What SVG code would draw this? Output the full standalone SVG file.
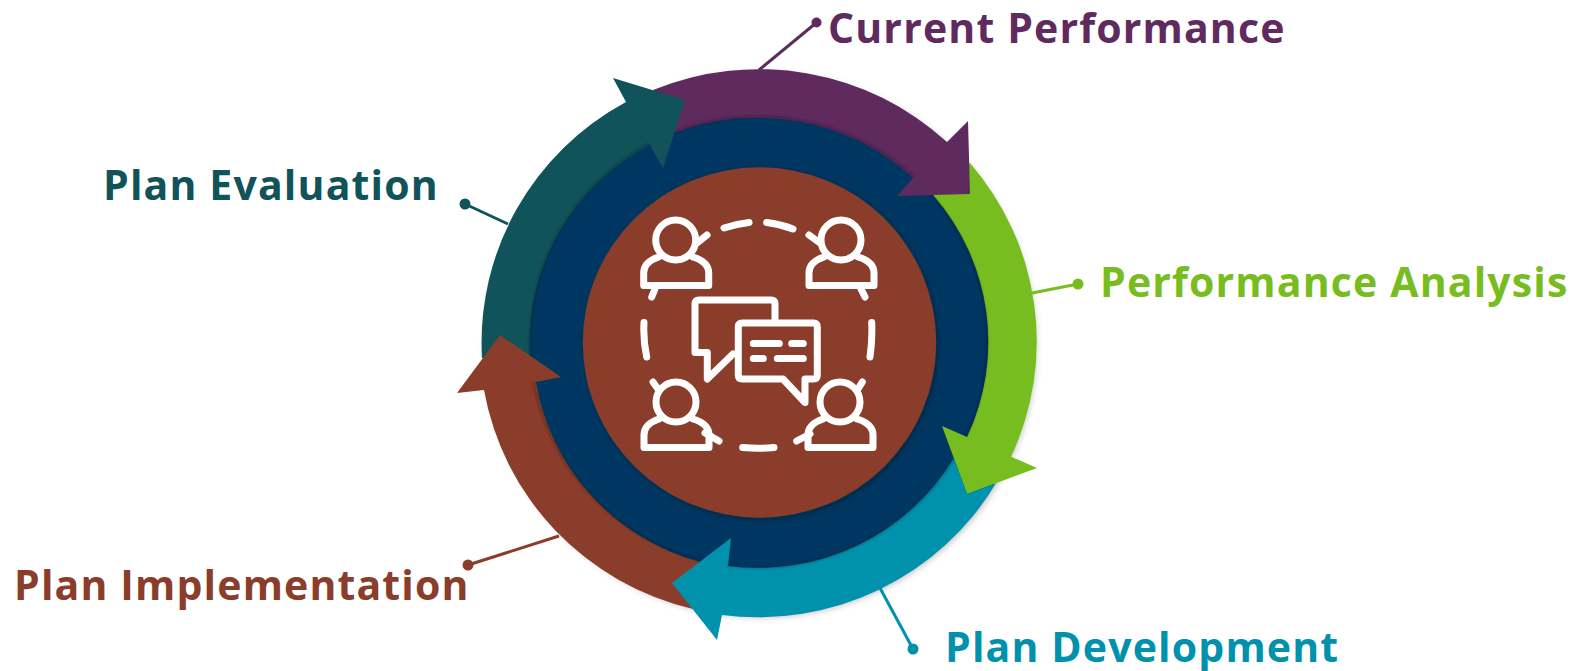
<svg xmlns="http://www.w3.org/2000/svg" width="1575" height="671" viewBox="0 0 1575 671">
<style>
.lbl{font-family:"Open Sans","Noto Sans",sans-serif;font-weight:700;font-size:41px;letter-spacing:1.15px}
.ic{fill:none;stroke:#fff;stroke-width:7;stroke-linecap:round;stroke-linejoin:round}
.ln{fill:none;stroke-width:3}
</style>
<defs>
<filter id="sh" x="-10%" y="-10%" width="120%" height="120%"><feDropShadow dx="2" dy="2" stdDeviation="3.500" flood-color="#000" flood-opacity="0.3"/></filter>
<filter id="bl" x="-10%" y="-10%" width="120%" height="120%"><feGaussianBlur stdDeviation="1.2"/></filter>
<mask id="heads" maskUnits="userSpaceOnUse" x="0" y="0" width="1575" height="671">
<rect width="1575" height="671" fill="#fff"/>
<path fill="#000" d="M968,121L970,194L897,196ZM1037,468L967,494L942,426ZM717,640L672,583L731,538ZM457,393L500,335L561,377ZM613,78L685,100L663,168Z"/>
</mask>
<g id="person"><circle cx="0" cy="0" r="20"/><path d="M-17,17C-26,20-32,25-32,33V45.500H33V33C33,25 27,20 17,17"/></g>
</defs>
<g id="disc"><ellipse cx="759" cy="343" rx="274.500" ry="271.500" fill="#003762" filter="url(#sh)"/><ellipse cx="758.500" cy="342" rx="228" ry="225" fill="#003762"/></g>
<g id="connectors">
<path class="ln" stroke="#5f2a5e" d="M816,23L759,70"/><circle cx="816.500" cy="22.500" r="5" fill="#5f2a5e"/>
<path class="ln" stroke="#78bd20" d="M1078,284L1032,293"/><circle cx="1078" cy="284" r="5.500" fill="#78bd20"/>
<path class="ln" stroke="#0091ad" d="M913,649L880,588"/><circle cx="913" cy="649" r="5.500" fill="#0091ad"/>
<path class="ln" stroke="#8a3d2a" d="M468,565L559,536"/><circle cx="468" cy="565" r="5.500" fill="#8a3d2a"/>
<path class="ln" stroke="#10535a" d="M465,204L508,224"/><circle cx="465" cy="204" r="5.500" fill="#10535a"/>
</g>
<g id="arrow-performance-analysis"><path fill="#78bd20" d="M970,163A277,274 0 0 1 1011,456.700L1037,468L967,494L942,426L967,437A228,225 0 0 0 933,195Z"/></g>
<g id="arrow-current-performance"><path fill="#5f2a5e" d="M653,90A277,274 0 0 1 947,142L968,121L970,194L897,196L913,178A228,225 0 0 0 675,133Z"/></g>
<g id="arrow-plan-evaluation"><path fill="#10535a" d="M482,358A277,274 0 0 1 626,102L613,78L685,100L663,168L650,145A228,225 0 0 0 530,355Z"/></g>
<g id="arrow-plan-implementation"><path fill="#8a3d2a" d="M693,609A277,274 0 0 1 484,390L457,393L500,335L561,377L536,382A228,225 0 0 0 700,562Z"/></g>
<g id="arrow-plan-development"><path fill="#0091ad" d="M996,483.300A277,274 0 0 1 722,615L717,640L672,583L731,538L728,566A228,225 0 0 0 953.800,458L967,494Z"/></g>
<g id="ring-shade" mask="url(#heads)"><ellipse cx="758.500" cy="342" rx="228.500" ry="225.500" fill="none" stroke="#000" stroke-opacity="0.2" stroke-width="2.500" filter="url(#bl)"/></g>
<g id="center"><ellipse cx="759.500" cy="342.500" rx="176.700" ry="175.200" fill="#8a3d2a" filter="url(#sh)"/>
<g class="ic">
<use href="#person" x="675.700" y="240"/><use href="#person" x="841" y="240"/><use href="#person" x="676" y="402"/><use href="#person" x="840" y="402"/>
<path d="M697,243L707,235M655,289L651.700,297M809,235L820,243M861,289L865,297M653,382L658,389M705,433L719,441M862.300,382L858,389M796.700,441L810,434"/>
<path d="M724,228Q736,224 749,222.500M766.700,222.500Q780,224 793,229M644,322.500Q643,340 646.700,357M871.700,322.500Q872.500,340 870,357M742.700,447.500Q758,449 774,447.500"/>
<path d="M733,354L707.300,379V352.500H695V304Q695,300 699,300H771Q775,300 775,304V322"/>
<path d="M742.300,323H813.300Q817.300,323 817.300,327V375Q817.300,379 813.300,379H805V402.500L783,379H742.300Q738.300,379 738.300,375V327Q738.300,323 742.300,323Z"/>
<path d="M753.300,343.500H779.300M791.700,343.500H803.300M753.300,358.500H763.300M777.300,358.500H803.300"/>
</g></g>
<g id="label-current"><text class="lbl" x="828" y="43" fill="#5f2a5e">Current Performance</text></g>
<g id="label-analysis"><text class="lbl" x="1100" y="296.700" fill="#78bd20">Performance Analysis</text></g>
<g id="label-development"><text class="lbl" x="945" y="662" fill="#0091ad">Plan Development</text></g>
<g id="label-implementation"><text class="lbl" x="14" y="600" fill="#8a3d2a">Plan Implementation</text></g>
<g id="label-evaluation"><text class="lbl" x="103" y="200" fill="#10535a">Plan Evaluation</text></g>
</svg>
